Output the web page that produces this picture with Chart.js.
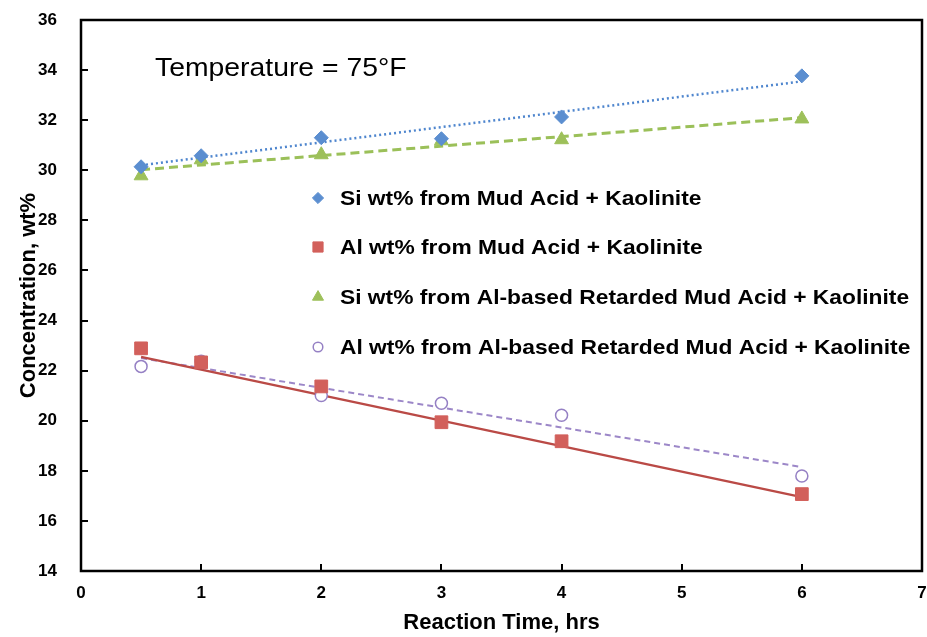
<!DOCTYPE html>
<html>
<head>
<meta charset="utf-8">
<script src="https://cdn.jsdelivr.net/npm/chart.js@4.4.1/dist/chart.umd.min.js"></script>
<style>
  html, body { margin: 0; padding: 0; background: #fff; }
</style>
</head>
<body>
<canvas id="chart" width="927" height="637"></canvas>
<script>
// ---- data ----
var hours = [0.5, 1, 2, 3, 4, 6];
var siMud = [30.14, 30.58, 31.30, 31.26, 32.13, 33.77];
var alMud = [22.89, 22.33, 21.37, 19.94, 19.18, 17.07];
var siRetarded = [29.78, 30.42, 30.62, 31.18, 31.22, 32.05];
var alRetarded = [22.17, 22.37, 21.01, 20.70, 20.22, 17.79];

// trend line end points (x = 0.5 and x = 6)
var trendHours = [0.5, 6];
var siMudTrend = [30.20, 33.55];
var alMudTrend = [22.55, 16.95];
var siRetardedTrend = [30.02, 32.10];
var alRetardedTrend = [22.50, 18.15];

var seriesNames = [
    "Si wt% from Mud Acid + Kaolinite",
    "Al wt% from Mud Acid + Kaolinite",
    "Si wt% from Al-based Retarded Mud Acid + Kaolinite",
    "Al wt% from Al-based Retarded Mud Acid + Kaolinite"
];

var FONT = "'Liberation Sans', Arial, Helvetica, sans-serif";

function pts(xs, ys) {
    return xs.map(function (x, i) { return { x: x, y: ys[i] }; });
}

function trend(xs, ys, color, dash, width) {
    return {
        data: pts(xs, ys),
        showLine: true,
        borderColor: color,
        borderWidth: width,
        borderDash: dash,
        pointRadius: 0,
        fill: false,
        isTrend: true
    };
}

/********************************** plugins *****************************************/
var frameAndTicks = {
    id: 'frameAndTicks',
    afterDraw: function (chart) {
        var ctx = chart.ctx;
        var a = chart.chartArea;
        var x = chart.scales.x, y = chart.scales.y;
        ctx.save();
        ctx.strokeStyle = '#000';
        ctx.lineWidth = 2;
        ctx.beginPath();
        x.ticks.forEach(function (t) {
            var px = Math.round(x.getPixelForValue(t.value));
            ctx.moveTo(px, a.bottom);
            ctx.lineTo(px, a.bottom - 7);
        });
        y.ticks.forEach(function (t) {
            var py = Math.round(y.getPixelForValue(t.value));
            ctx.moveTo(a.left, py);
            ctx.lineTo(a.left + 7, py);
        });
        ctx.stroke();
        ctx.lineWidth = 2.5;
        ctx.strokeRect(a.left, a.top, a.right - a.left, a.bottom - a.top);

        // annotation
        ctx.fillStyle = '#000';
        ctx.font = '26px ' + FONT;
        ctx.textBaseline = 'middle';
        ctx.textAlign = 'left';
        ctx.save();
        ctx.translate(a.left + 74, a.top + 49);
        ctx.scale(1.09, 1);
        ctx.fillText('Temperature = 75\u00B0F', 0, 0);
        ctx.restore();

        // legend
        var rows = [198, 247, 297, 347];
        var pointSets = chart.data.datasets.filter(function (d) { return !d.isTrend; });
        ctx.font = 'bold 21px ' + FONT;
        pointSets.forEach(function (d, i) {
            var yy = rows[i];
            ctx.fillStyle = d.backgroundColor;
            ctx.strokeStyle = d.borderColor;
            ctx.lineWidth = d.borderWidth;
            Chart.helpers.drawPoint(ctx, {
                pointStyle: d.pointStyle,
                radius: d.pointRadius * 0.8,
                borderWidth: d.borderWidth
            }, 318, yy);
            ctx.fillStyle = '#000';
            ctx.save();
            ctx.translate(340, yy + 1);
            ctx.scale(1.085, 1);
            ctx.fillText(d.label, 0, 0);
            ctx.restore();
        });
        ctx.restore();
    }
};

/********************************** chart *****************************************/
new Chart(document.getElementById('chart'), {
    type: 'scatter',
    data: {
        datasets: [
            {
                label: seriesNames[0],
                data: pts(hours, siMud),
                pointStyle: 'rectRot',
                pointRadius: 7,
                backgroundColor: '#5B8ED0',
                borderColor: '#5B8ED0',
                borderWidth: 1
            },
            {
                label: seriesNames[1],
                data: pts(hours, alMud),
                pointStyle: 'rect',
                pointRadius: 9,
                backgroundColor: '#D2605B',
                borderColor: '#D2605B',
                borderWidth: 1
            },
            {
                label: seriesNames[2],
                data: pts(hours, siRetarded),
                pointStyle: 'triangle',
                pointRadius: 8,
                backgroundColor: '#9DC05A',
                borderColor: '#9DC05A',
                borderWidth: 1
            },
            {
                label: seriesNames[3],
                data: pts(hours, alRetarded),
                pointStyle: 'circle',
                pointRadius: 6,
                backgroundColor: '#ffffff',
                borderColor: '#9580C4',
                borderWidth: 1.5
            },
            trend(trendHours, siMudTrend, '#4F86CE', [2, 3], 2.5),
            trend(trendHours, alMudTrend, '#BA4A46', [], 2.5),
            trend(trendHours, siRetardedTrend, '#9BC059', [9, 5], 3),
            trend(trendHours, alRetardedTrend, '#9C87C8', [6, 4], 2)
        ]
    },
    options: {
        responsive: false,
        animation: false,
        layout: { autoPadding: false, padding: { top: 20, right: 5, left: 0, bottom: 0 } },
        plugins: {
            legend: { display: false },
            tooltip: { enabled: false }
        },
        scales: {
            x: {
                type: 'linear',
                min: 0,
                max: 7,
                grid: { display: false, drawTicks: false },
                border: { display: false },
                ticks: {
                    stepSize: 1,
                    padding: 12,
                    color: '#000',
                    font: { family: FONT, size: 17, weight: 'bold' }
                },
                title: {
                    display: true,
                    text: 'Reaction Time, hrs',
                    color: '#000',
                    padding: { top: 0, bottom: 1 },
                    font: { family: FONT, size: 22, weight: 'bold' }
                },
                afterFit: function (s) {
                    s.height = 66;
                    s.paddingLeft = 0;
                    s.paddingRight = 0;
                }
            },
            y: {
                min: 14,
                max: 36,
                grid: { display: false, drawTicks: false },
                border: { display: false },
                ticks: {
                    stepSize: 2,
                    padding: 24,
                    color: '#000',
                    font: { family: FONT, size: 17, weight: 'bold' }
                },
                title: {
                    display: true,
                    text: 'Concentration, wt%',
                    color: '#000',
                    padding: { top: 16, bottom: 0 },
                    font: { family: FONT, size: 22, weight: 'bold' }
                },
                afterFit: function (s) {
                    s.width = 81;
                    s.paddingTop = 0;
                    s.paddingBottom = 0;
                }
            }
        }
    },
    plugins: [frameAndTicks]
});
</script>
</body>
</html>
